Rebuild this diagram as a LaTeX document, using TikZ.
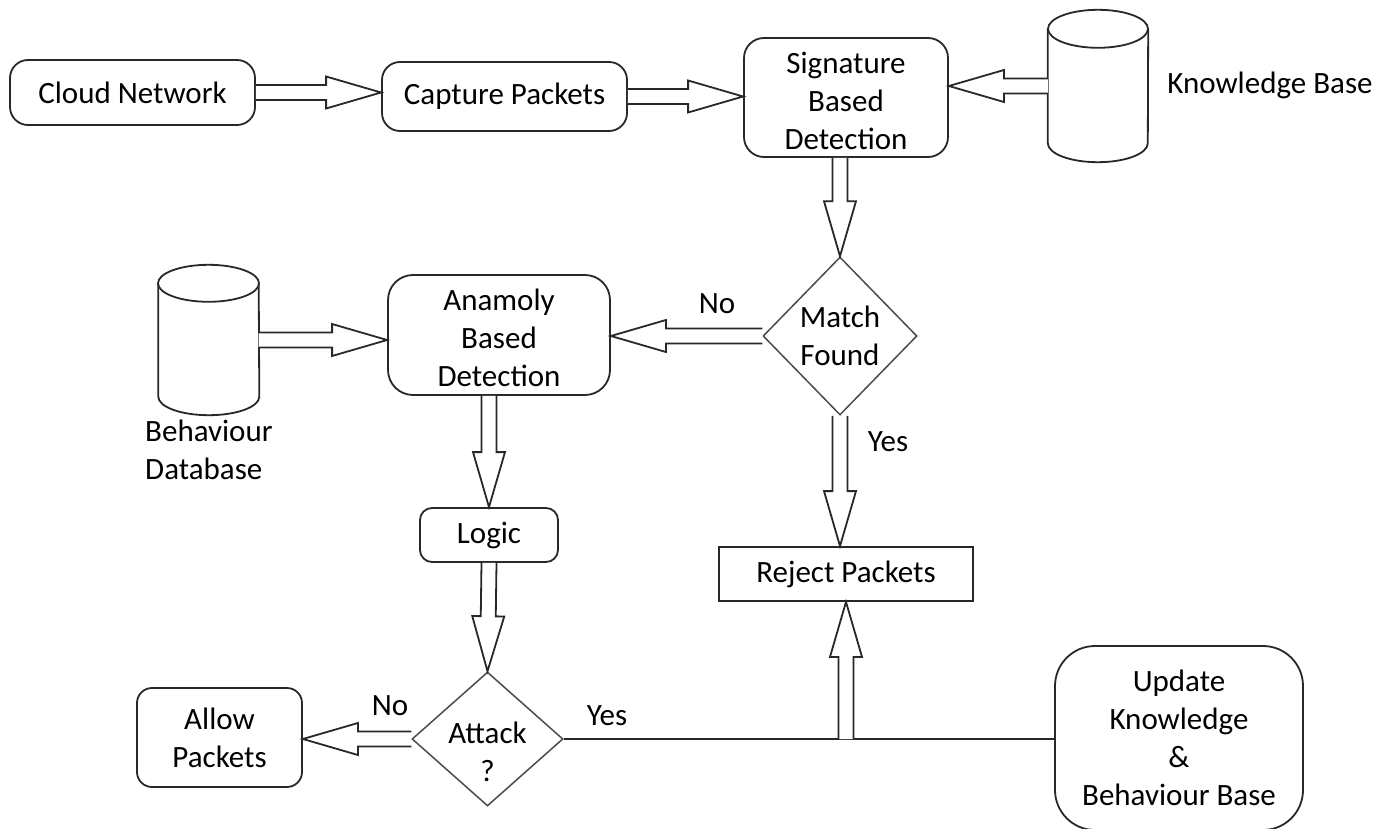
\documentclass[tikz,border=0pt]{standalone}
\usepackage{fontspec}
\setmainfont{Carlito}
\usepackage{xcolor}
\usepackage{tikz}
\usetikzlibrary{shapes.geometric, calc}
\definecolor{bline}{RGB}{40,40,40}
\definecolor{dline}{RGB}{75,75,75}

% hollow block arrow from #1 to #2
\newcommand{\blockarr}[2]{%
  \path (#1) coordinate (ba) (#2) coordinate (bb);
  \path ($(bb)!55pt!(ba)$) coordinate (bc);
  \draw[blk] ($(ba)!7.5pt!90:(bb)$) -- ($(bc)!7.5pt!90:(bb)$)
    -- ($(bc)!16pt!90:(bb)$) -- (bb) -- ($(bc)!16pt!-90:(bb)$)
    -- ($(bc)!7.5pt!-90:(bb)$) -- ($(ba)!7.5pt!-90:(bb)$);}

\begin{document}
\begin{tikzpicture}[
  x=1pt, y=-1pt,
  font=\fontsize{31}{38}\selectfont,
  box/.style={draw=bline,line width=1.8pt,rounded corners=18pt,
              align=center,inner sep=0pt},
  sqbox/.style={draw=bline,line width=1.8pt,align=center,inner sep=0pt},
  dec/.style={diamond,draw=dline,line width=1.5pt,align=center,inner sep=-6pt},
  blk/.style={draw=bline,line width=1.8pt,fill=white},
  dbase/.style={minimum width=100pt,inner sep=0pt},
  lbl/.style={inner sep=0pt,align=left}
]
  \useasboundingbox (0,0) rectangle (1393,829);

  % Top row
  \node[box,minimum width=245pt,minimum height=65pt] (cloud) at (132.5,92.5) {Cloud Network};
  \node[box,minimum width=245pt,minimum height=69pt] (cap) at (504.5,96.5) {Capture Packets};
  \node[box,rounded corners=20pt,minimum width=204pt,minimum height=119pt] (sig) at (846,97.5)
    {\rule{0pt}{29pt}Signature\\Based\\Detection};
  \node[dbase,minimum height=152pt] (kb) at (1098,86) {};
  \node[lbl] (kbl) at (1270,85) {Knowledge Base};

  % Middle row
  \node[dec,minimum width=154pt,minimum height=158pt] (match) at (840,336) {Match\\Found};
  \node[box,rounded corners=25pt,minimum width=222pt,minimum height=120pt] (ana) at (499,335)
    {\rule{0pt}{27pt}Anamoly\\Based\\Detection};
  \node[dbase,minimum height=150pt] (bdb) at (208.5,340) {};
  \node[lbl,anchor=west] (bdbl) at (145,450) {Behaviour\\Database};
  \node[box,rounded corners=12pt,minimum width=138pt,minimum height=54pt] (logic) at (489,535) {Logic};
  \node[sqbox,minimum width=254pt,minimum height=54pt] (reject) at (846,574) {Reject Packets};

  % Bottom row
  \node[dec,inner sep=-13pt,minimum width=151pt,minimum height=134pt] (attack) at (487.5,739)
    {\rule{0pt}{48pt}Attack\\?};
  \node[box,rounded corners=15pt,minimum width=165pt,minimum height=99pt] (allow) at (219.5,737.5)
    {Allow\\Packets};
  \node[box,rounded corners=40pt,minimum width=248pt,minimum height=184pt] (upd) at (1179,738)
    {Update\\Knowledge\\\&\\Behaviour Base};

  % Databases
  \draw[blk] ($(kb.north west)+(0,19)$) -- ($(kb.south west)+(0,-19)$)
    arc[start angle=180,end angle=360,x radius=50pt,y radius=19pt]
    -- ($(kb.north east)+(0,19)$);
  \draw[blk] ($(kb.north)+(0,19)$) ellipse[x radius=50pt,y radius=19pt];
  \draw[blk] ($(bdb.north west)+(0,18.5)$) -- ($(bdb.south west)+(0,-18.5)$)
    arc[start angle=180,end angle=360,x radius=50.5pt,y radius=18.5pt]
    -- ($(bdb.north east)+(0,18.5)$);
  \draw[blk] ($(bdb.north)+(0,18.5)$) ellipse[x radius=50.5pt,y radius=18.5pt];

  % Arrows
  \blockarr{cloud.east}{cap.west |- cloud.east}
  \blockarr{cap.east}{sig.west |- cap.east}
  \blockarr{kb.west}{sig.east |- kb.west}
  \blockarr{match.north |- sig.south}{match.north}
  \blockarr{match.west}{ana.east |- match.west}
  \blockarr{match.south}{reject.north -| match.south}
  \blockarr{bdb.east}{ana.west |- bdb.east}
  \blockarr{logic.north |- ana.south}{logic.north}
  \blockarr{logic.south}{attack.north}
  \blockarr{attack.west}{allow.east |- attack.west}

  % Yes branch of the attack test
  \coordinate (jn) at (reject.south |- attack.east);
  \draw[bline,line width=1.8pt] (attack.east) -- (upd.west |- attack.east);
  \blockarr{jn}{reject.south}

  % Branch labels
  \node[lbl] (no1) at (717,304) {No};
  \node[lbl] (yes1) at (888,442) {Yes};
  \node[lbl] (no2) at (390,706) {No};
  \node[lbl] (yes2) at (607,716) {Yes};
\end{tikzpicture}
\end{document}
